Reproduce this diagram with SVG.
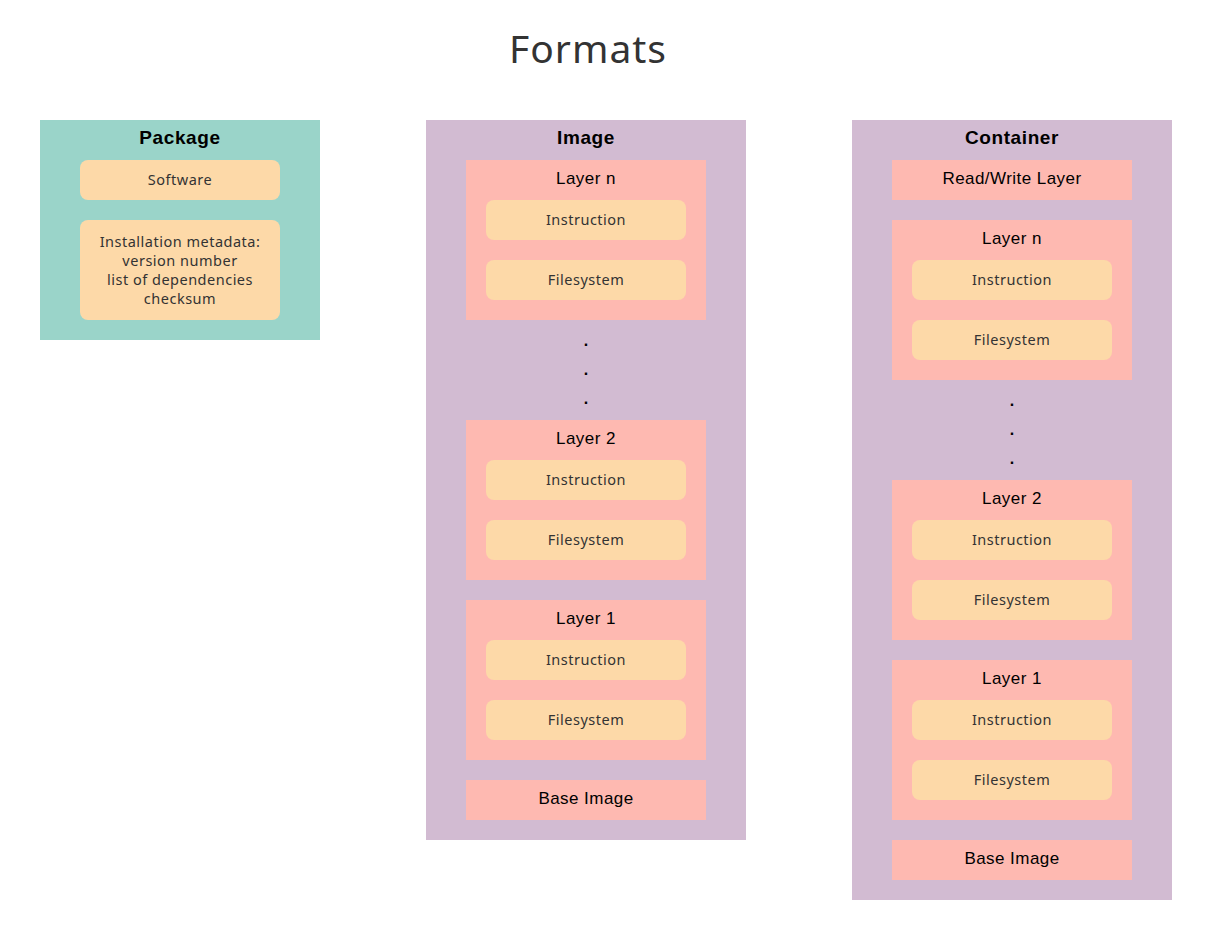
<svg xmlns="http://www.w3.org/2000/svg" width="1213" height="929" viewBox="0 0 1213 929">
<style>
.bg{fill:#ffffff}
.teal{fill:#9AD4C9}
.purple{fill:#D2BBD2}
.layer{fill:#FEB9B1}
.item{fill:#FDD9A8}
.title{font-family:"Noto Sans","Open Sans",sans-serif;font-size:39px;letter-spacing:1px;fill:#333333;text-anchor:middle}
.head{font-family:"Liberation Sans",Arial,sans-serif;font-size:19px;letter-spacing:0.6px;font-weight:bold;fill:#000000;text-anchor:middle}
.lbl{font-family:"Liberation Sans",Arial,sans-serif;font-size:17px;letter-spacing:0.45px;fill:#000000;text-anchor:middle}
.itxt{font-family:"Noto Sans","Open Sans",sans-serif;font-size:14.5px;letter-spacing:0.5px;fill:#333333;text-anchor:middle}
.dot{font-family:"Liberation Sans",Arial,sans-serif;font-size:16px;font-weight:bold;fill:#000000;text-anchor:middle}
</style>
<rect class="bg" x="0" y="0" width="1213" height="929"/>
<text class="title" x="588" y="63">Formats</text>

<g id="package">
<rect class="teal" x="40" y="120" width="280" height="220"/>
<text class="head" x="180" y="144">Package</text>
<g id="pkg-software"><rect class="item" x="80" y="160" width="200" height="40" rx="8"/><text class="itxt" x="180" y="185">Software</text></g>
<g id="pkg-metadata"><rect class="item" x="80" y="220" width="200" height="100" rx="8"/>
<text class="itxt" x="180" y="247">Installation metadata:</text>
<text class="itxt" x="180" y="266">version number</text>
<text class="itxt" x="180" y="285">list of dependencies</text>
<text class="itxt" x="180" y="304">checksum</text></g>
</g>

<g id="image">
<rect class="purple" x="426" y="120" width="320" height="720"/>
<text class="head" x="586" y="144">Image</text>
<g id="img-layer-n"><rect class="layer" x="466" y="160" width="240" height="160"/><text class="lbl" x="586" y="184">Layer n</text>
<rect class="item" x="486" y="200" width="200" height="40" rx="8"/><text class="itxt" x="586" y="225">Instruction</text>
<rect class="item" x="486" y="260" width="200" height="40" rx="8"/><text class="itxt" x="586" y="285">Filesystem</text></g>
<text class="dot" x="586" y="346">.</text>
<text class="dot" x="586" y="375">.</text>
<text class="dot" x="586" y="404">.</text>
<g id="img-layer-2"><rect class="layer" x="466" y="420" width="240" height="160"/><text class="lbl" x="586" y="444">Layer 2</text>
<rect class="item" x="486" y="460" width="200" height="40" rx="8"/><text class="itxt" x="586" y="485">Instruction</text>
<rect class="item" x="486" y="520" width="200" height="40" rx="8"/><text class="itxt" x="586" y="545">Filesystem</text></g>
<g id="img-layer-1"><rect class="layer" x="466" y="600" width="240" height="160"/><text class="lbl" x="586" y="624">Layer 1</text>
<rect class="item" x="486" y="640" width="200" height="40" rx="8"/><text class="itxt" x="586" y="665">Instruction</text>
<rect class="item" x="486" y="700" width="200" height="40" rx="8"/><text class="itxt" x="586" y="725">Filesystem</text></g>
<g id="img-base"><rect class="layer" x="466" y="780" width="240" height="40"/><text class="lbl" x="586" y="804">Base Image</text></g>
</g>

<g id="container">
<rect class="purple" x="852" y="120" width="320" height="780"/>
<text class="head" x="1012" y="144">Container</text>
<g id="ctr-rw"><rect class="layer" x="892" y="160" width="240" height="40"/><text class="lbl" x="1012" y="184">Read/Write Layer</text></g>
<g id="ctr-layer-n"><rect class="layer" x="892" y="220" width="240" height="160"/><text class="lbl" x="1012" y="244">Layer n</text>
<rect class="item" x="912" y="260" width="200" height="40" rx="8"/><text class="itxt" x="1012" y="285">Instruction</text>
<rect class="item" x="912" y="320" width="200" height="40" rx="8"/><text class="itxt" x="1012" y="345">Filesystem</text></g>
<text class="dot" x="1012" y="406">.</text>
<text class="dot" x="1012" y="435">.</text>
<text class="dot" x="1012" y="464">.</text>
<g id="ctr-layer-2"><rect class="layer" x="892" y="480" width="240" height="160"/><text class="lbl" x="1012" y="504">Layer 2</text>
<rect class="item" x="912" y="520" width="200" height="40" rx="8"/><text class="itxt" x="1012" y="545">Instruction</text>
<rect class="item" x="912" y="580" width="200" height="40" rx="8"/><text class="itxt" x="1012" y="605">Filesystem</text></g>
<g id="ctr-layer-1"><rect class="layer" x="892" y="660" width="240" height="160"/><text class="lbl" x="1012" y="684">Layer 1</text>
<rect class="item" x="912" y="700" width="200" height="40" rx="8"/><text class="itxt" x="1012" y="725">Instruction</text>
<rect class="item" x="912" y="760" width="200" height="40" rx="8"/><text class="itxt" x="1012" y="785">Filesystem</text></g>
<g id="ctr-base"><rect class="layer" x="892" y="840" width="240" height="40"/><text class="lbl" x="1012" y="864">Base Image</text></g>
</g>
<g id="connectors"></g>
</svg>
